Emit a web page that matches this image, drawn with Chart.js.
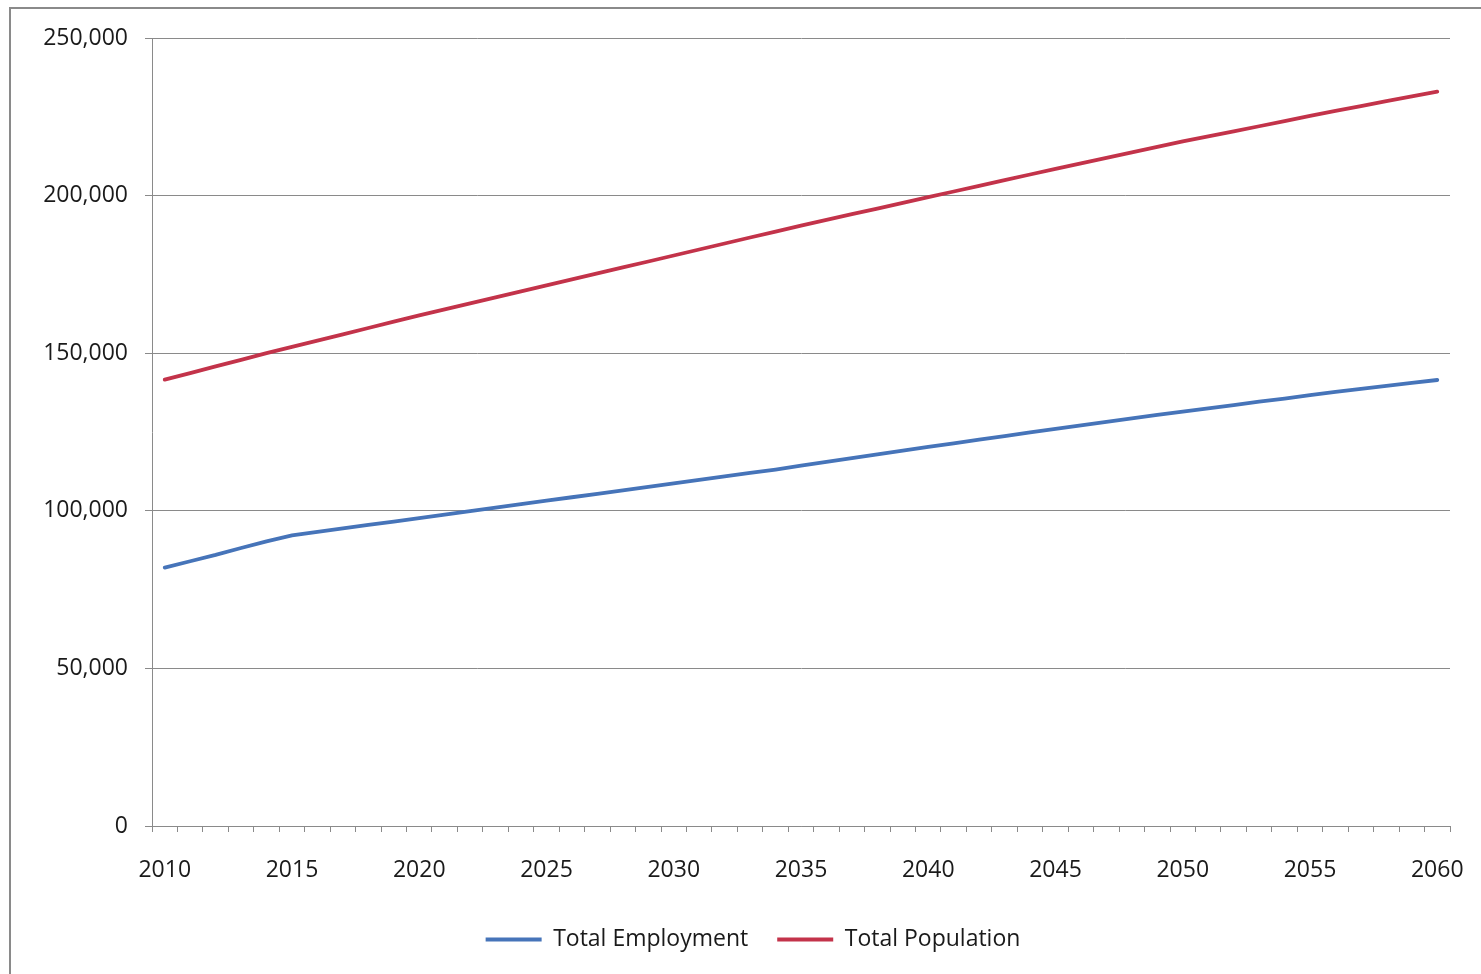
<!DOCTYPE html>
<html>
<head>
<meta charset="utf-8">
<script src="https://cdn.jsdelivr.net/npm/chart.js@4/dist/chart.umd.min.js"></script>
<style>
  html, body { margin: 0; padding: 0; background: #fff; }
  #wrap { width: 1481px; height: 974px; }
</style>
</head>
<body>
<div id="wrap"><canvas id="projChart" width="1481" height="974"></canvas></div>
<script>
const years = [];
for (let y = 2010; y <= 2060; y++) years.push(String(y));

const employment = [
  82000, 84000, 86000, 88200, 90300, 92200, 93300, 94400, 95500, 96600,
  97700, 98800, 99900, 101000, 102100, 103200, 104300, 105400, 106500, 107600,
  108700, 109800, 110900, 112000, 113100, 114300, 115500, 116700, 117900, 119100,
  120300, 121400, 122600, 123700, 124900, 126000, 127100, 128200, 129300, 130400,
  131500, 132500, 133500, 134600, 135600, 136700, 137700, 138700, 139600, 140600,
  141500
];

const population = [
  141600, 143700, 145800, 147900, 150000, 152000, 154000, 156000, 158000, 160000,
  162000, 163900, 165800, 167700, 169600, 171500, 173400, 175300, 177200, 179100,
  181000, 182900, 184800, 186700, 188600, 190500, 192300, 194100, 195900, 197700,
  199500, 201300, 203100, 204900, 206700, 208500, 210250, 212000, 213700, 215450,
  217200, 218800, 220400, 222000, 223650, 225300, 226850, 228400, 229950, 231500,
  233000
];

const seriesNames = ['Total Employment', 'Total Population'];
const seriesColors = ['#4674b9', '#c3334a'];
const yTicks = [0, 50000, 100000, 150000, 200000, 250000];

const font = { family: "'Open Sans', 'Noto Sans', sans-serif", size: 23 };

// grey frame around the whole chart
const frame = {
  id: 'frame',
  beforeDraw(chart) {
    const c = chart.ctx;
    c.save();
    c.fillStyle = '#fff';
    c.fillRect(0, 0, chart.width, chart.height);
    c.strokeStyle = '#8a8a8a';
    c.lineWidth = 2;
    c.strokeRect(10, 8, chart.width + 10, chart.height + 10);
    c.restore();
  }
};

// legend sits centred under the plot area rather than the canvas
const legendShift = {
  id: 'legendShift',
  afterLayout(chart) {
    const lg = chart.legend;
    if (!lg) return;
    const dx = (chart.chartArea.left + chart.chartArea.right) / 2 - (lg.left + lg.right) / 2 - 48;
    lg.left += dx;
    lg.right += dx;
  }
};

new Chart(document.getElementById('projChart'), {
  type: 'line',
  data: {
    labels: years,
    datasets: [
      { label: seriesNames[0], data: employment, borderColor: seriesColors[0], backgroundColor: seriesColors[0] },
      { label: seriesNames[1], data: population, borderColor: seriesColors[1], backgroundColor: seriesColors[1] }
    ]
  },
  options: {
    responsive: false,
    animation: false,
    elements: {
      line: { borderWidth: 3.8, tension: 0, borderCapStyle: 'round' },
      point: { radius: 0 }
    },
    layout: { padding: { top: 38, right: 31, bottom: 13, left: 0 } },
    plugins: {
      tooltip: { enabled: false },
      legend: {
        position: 'bottom',
        labels: {
          font: font,
          color: '#1a1a1a',
          boxWidth: 56,
          boxHeight: 4,
          padding: 29,
          generateLabels(chart) {
            return chart.data.datasets.map((ds, i) => ({
              text: ds.label,
              fillStyle: ds.borderColor,
              strokeStyle: ds.borderColor,
              lineWidth: 0,
              fontColor: '#1a1a1a',
              datasetIndex: i
            }));
          }
        }
      }
    },
    scales: {
      x: {
        type: 'category',
        offset: true,
        afterFit(scale) {
          scale.height = 73;
          scale.paddingLeft = 0;
          scale.paddingRight = 0;
        },
        border: { color: '#8a8a8a', width: 1 },
        grid: { offset: true, drawOnChartArea: false, tickLength: 6, color: '#8a8a8a' },
        ticks: {
          font: font,
          color: '#1a1a1a',
          padding: 25,
          autoSkip: false,
          maxRotation: 0,
          callback(v, i) { return i % 5 === 0 ? years[i] : ''; }
        }
      },
      y: {
        min: 0,
        max: 250000,
        afterFit(scale) { scale.width = 152; },
        afterBuildTicks(scale) { scale.ticks = yTicks.map(v => ({ value: v })); },
        border: { color: '#8a8a8a', width: 1 },
        grid: { color: '#8a8a8a', tickLength: 7, lineWidth: 1 },
        ticks: {
          font: font,
          color: '#1a1a1a',
          padding: 17,
          callback(v) { return v.toLocaleString('en-US'); }
        }
      }
    }
  },
  plugins: [frame, legendShift]
});
</script>
</body>
</html>
